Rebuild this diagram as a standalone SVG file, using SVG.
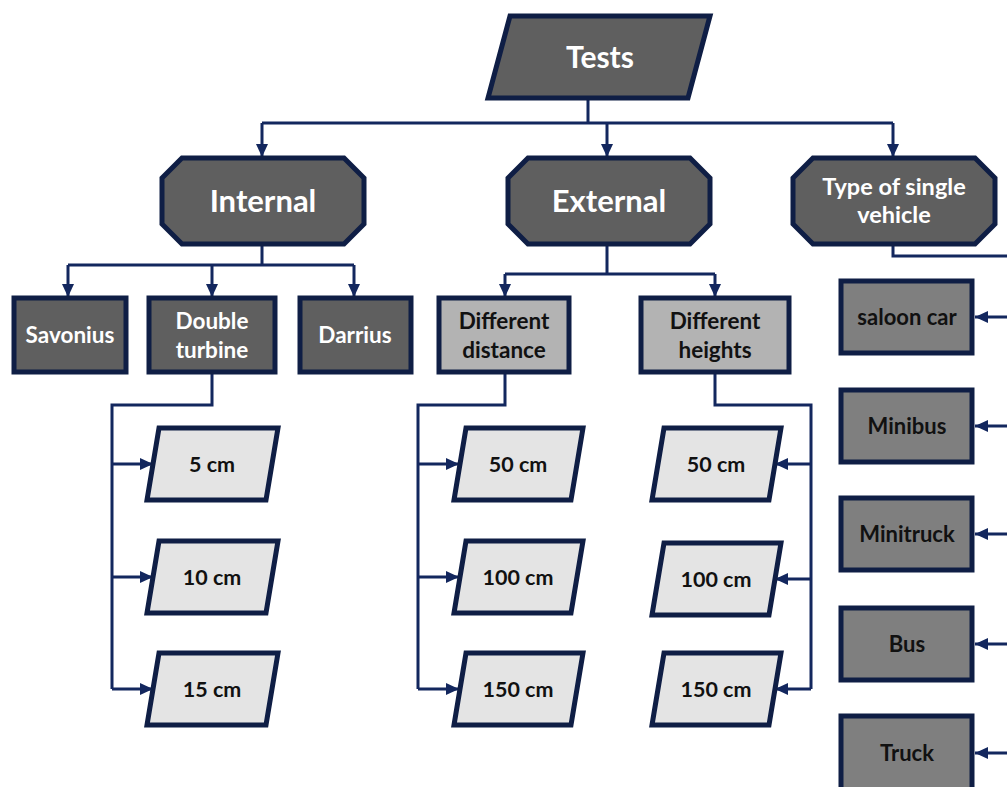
<svg xmlns="http://www.w3.org/2000/svg" width="1007" height="787" viewBox="0 0 1007 787">
<defs>
<marker id="arr" markerUnits="userSpaceOnUse" markerWidth="14" markerHeight="14" viewBox="0 0 14 14" refX="13" refY="7" orient="auto">
<path d="M0,1 L13,7 L0,13 Z" fill="#13275e"/>
</marker>
</defs>
<style>
.dark{fill:#5f5f5f;stroke:#0f1e45;stroke-width:5}
.mid{fill:#7f7f7f;stroke:#0f1e45;stroke-width:5}
.light{fill:#b3b3b3;stroke:#0f1e45;stroke-width:5}
.pale{fill:#e4e4e4;stroke:#0f1e45;stroke-width:5}
.w{font-family:Lato,"Liberation Sans",sans-serif;font-weight:bold;fill:#ffffff;text-anchor:middle}
.b{font-family:Lato,"Liberation Sans",sans-serif;font-weight:bold;fill:#111111;text-anchor:middle}
.c{fill:none;stroke:#13275e;stroke-width:3}
</style>
<g id="connectors">
<path class="c" d="M588,99 V123 M262,123 H893"/>
<path class="c" d="M262,123 V157" marker-end="url(#arr)"/>
<path class="c" d="M607,123 V157" marker-end="url(#arr)"/>
<path class="c" d="M893,123 V157" marker-end="url(#arr)"/>
<path class="c" d="M262,245 V265 M68,265 H354"/>
<path class="c" d="M68,265 V297" marker-end="url(#arr)"/>
<path class="c" d="M212,265 V297" marker-end="url(#arr)"/>
<path class="c" d="M354,265 V297" marker-end="url(#arr)"/>
<path class="c" d="M607,245 V274 M505,274 H715"/>
<path class="c" d="M505,274 V297" marker-end="url(#arr)"/>
<path class="c" d="M715,274 V297" marker-end="url(#arr)"/>
<path class="c" d="M893,245 V256 H1010"/>
<path class="c" d="M1010,317 H975" marker-end="url(#arr)"/>
<path class="c" d="M1010,426 H975" marker-end="url(#arr)"/>
<path class="c" d="M1010,534 H975" marker-end="url(#arr)"/>
<path class="c" d="M1010,644 H975" marker-end="url(#arr)"/>
<path class="c" d="M1010,753 H975" marker-end="url(#arr)"/>
<path class="c" d="M212,372 V405 H112 V689"/>
<path class="c" d="M112,464 H153" marker-end="url(#arr)"/>
<path class="c" d="M112,577 H153" marker-end="url(#arr)"/>
<path class="c" d="M112,689 H153" marker-end="url(#arr)"/>
<path class="c" d="M505,372 V405 H418 V689"/>
<path class="c" d="M418,464 H459" marker-end="url(#arr)"/>
<path class="c" d="M418,577 H459" marker-end="url(#arr)"/>
<path class="c" d="M418,689 H459" marker-end="url(#arr)"/>
<path class="c" d="M715,372 V405 H811 V689"/>
<path class="c" d="M811,464 H775" marker-end="url(#arr)"/>
<path class="c" d="M811,579 H775" marker-end="url(#arr)"/>
<path class="c" d="M811,689 H775" marker-end="url(#arr)"/>
</g>
<g id="tests">
<polygon class="dark" points="510,16 710,16 688,98 488,98"/>
<text class="w" x="600" y="68" font-size="30">Tests</text>
</g>
<g id="internal">
<polygon class="dark" points="182,158 344,158 364,178 364,224 344,244 182,244 162,224 162,178"/>
<text class="w" x="263" y="212" font-size="31">Internal</text>
</g>
<g id="external">
<polygon class="dark" points="528,158 690,158 710,178 710,224 690,244 528,244 508,224 508,178"/>
<text class="w" x="609" y="212" font-size="31">External</text>
</g>
<g id="type">
<polygon class="dark" points="813,158 975,158 995,178 995,224 975,244 813,244 793,224 793,178"/>
<text class="w" x="894" y="195" font-size="23.5">Type of single</text>
<text class="w" x="894" y="223" font-size="23.5">vehicle</text>
</g>
<g id="savonius">
<rect class="dark" x="14" y="298" width="112" height="74"/>
<text class="w" x="70" y="343" font-size="22.5">Savonius</text>
</g>
<g id="double">
<rect class="dark" x="149" y="298" width="126" height="74"/>
<text class="w" x="212" y="329" font-size="22.5">Double</text>
<text class="w" x="212" y="358" font-size="22.5">turbine</text>
</g>
<g id="darrius">
<rect class="dark" x="300" y="298" width="111" height="74"/>
<text class="w" x="355" y="343" font-size="22.5">Darrius</text>
</g>
<g id="diffdist">
<rect class="light" x="439" y="298" width="130" height="74"/>
<text class="b" x="504" y="329" font-size="22.5">Different</text>
<text class="b" x="504" y="358" font-size="22.5">distance</text>
</g>
<g id="diffheights">
<rect class="light" x="641" y="298" width="148" height="74"/>
<text class="b" x="715" y="329" font-size="22.5">Different</text>
<text class="b" x="715" y="358" font-size="22.5">heights</text>
</g>
<g id="saloon">
<rect class="mid" x="841" y="281" width="131" height="72"/>
<text class="b" x="907" y="325" font-size="22">saloon car</text>
</g>
<g id="minibus">
<rect class="mid" x="841" y="390" width="131" height="72"/>
<text class="b" x="907" y="434" font-size="22">Minibus</text>
</g>
<g id="minitruck">
<rect class="mid" x="841" y="498" width="131" height="72"/>
<text class="b" x="907" y="542" font-size="22">Minitruck</text>
</g>
<g id="bus">
<rect class="mid" x="841" y="608" width="131" height="72"/>
<text class="b" x="907" y="652" font-size="22">Bus</text>
</g>
<g id="truck">
<rect class="mid" x="841" y="716" width="131" height="76"/>
<text class="b" x="907" y="761" font-size="22">Truck</text>
</g>
<g id="p5">
<polygon class="pale" points="159,428 278,428 266,500 147,500"/>
<text class="b" x="212" y="472" font-size="21.5">5 cm</text>
</g>
<g id="p10">
<polygon class="pale" points="159,541 278,541 266,613 147,613"/>
<text class="b" x="212" y="585" font-size="21.5">10 cm</text>
</g>
<g id="p15">
<polygon class="pale" points="159,653 278,653 266,725 147,725"/>
<text class="b" x="212" y="697" font-size="21.5">15 cm</text>
</g>
<g id="d50">
<polygon class="pale" points="466,428 583,428 571,500 454,500"/>
<text class="b" x="518" y="472" font-size="21.5">50 cm</text>
</g>
<g id="d100">
<polygon class="pale" points="466,541 583,541 571,613 454,613"/>
<text class="b" x="518" y="585" font-size="21.5">100 cm</text>
</g>
<g id="d150">
<polygon class="pale" points="466,653 583,653 571,725 454,725"/>
<text class="b" x="518" y="697" font-size="21.5">150 cm</text>
</g>
<g id="h50">
<polygon class="pale" points="664,428 781,428 769,500 652,500"/>
<text class="b" x="716" y="472" font-size="21.5">50 cm</text>
</g>
<g id="h100">
<polygon class="pale" points="664,543 781,543 769,615 652,615"/>
<text class="b" x="716" y="587" font-size="21.5">100 cm</text>
</g>
<g id="h150">
<polygon class="pale" points="664,653 781,653 769,725 652,725"/>
<text class="b" x="716" y="697" font-size="21.5">150 cm</text>
</g>
</svg>
